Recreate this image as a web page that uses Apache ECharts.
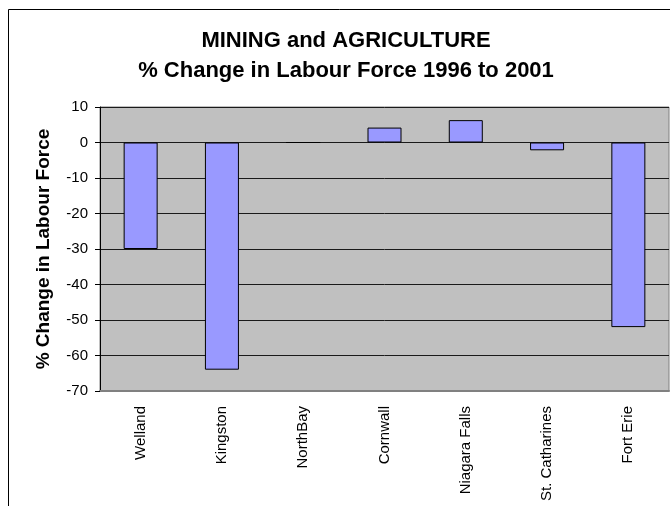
<!DOCTYPE html>
<html>
<head>
<meta charset="utf-8">
<script src="https://cdn.jsdelivr.net/npm/echarts@6/dist/echarts.min.js"></script>
<style>
  html, body { margin: 0; padding: 0; background: #fff; }
  #chart { width: 670px; height: 506px; }
</style>
</head>
<body>
<div id="chart"></div>
<script>
const cities = ['Welland', 'Kingston', 'NorthBay', 'Cornwall', 'Niagara Falls', 'St. Catharines', 'Fort Erie']
const changePct = [-30, -64, 0, 4.2, 6.3, -2.2, -52]
const yMin = -70
const yMax = 10
const yStep = 10

const font = 'Liberation Sans, Arial, sans-serif'

const chart = echarts.init(document.getElementById('chart'))

chart.setOption({
  animation: false,
  backgroundColor: '#fff',
  title: {
    text: 'MINING and AGRICULTURE\n% Change in Labour Force 1996 to 2001',
    left: 346,
    top: 26,
    padding: 0,
    textAlign: 'center',
    textStyle: {
      fontFamily: font,
      fontSize: 22,
      fontWeight: 'bold',
      color: '#000',
      lineHeight: 30
    }
  },
  graphic: [{
    // outer chart frame, cut off at right and bottom
    type: 'rect',
    shape: { x: 8.5, y: 9.5, width: 700, height: 600 },
    style: { fill: 'none', stroke: '#000', lineWidth: 1 },
    silent: true
  }],
  grid: {
    left: 100,
    right: 1,
    top: 107,
    bottom: 115,
    show: true,
    backgroundColor: '#C0C0C0',
    borderColor: '#808080',
    borderWidth: 1
  },
  xAxis: {
    type: 'category',
    data: cities,
    axisLine: { show: true, onZero: false, lineStyle: { color: '#808080', width: 2 } },
    axisTick: { show: false },
    axisLabel: {
      rotate: 90,
      margin: 15,
      interval: 0,
      fontFamily: font,
      fontSize: 15,
      color: '#000'
    },
    splitLine: { show: false }
  },
  yAxis: {
    type: 'value',
    min: yMin,
    max: yMax,
    interval: yStep,
    name: '% Change in Labour Force',
    nameLocation: 'middle',
    nameGap: 47,
    nameTextStyle: {
      fontFamily: font,
      fontSize: 19,
      fontWeight: 'bold',
      color: '#000'
    },
    axisLine: { show: true, lineStyle: { color: '#000', width: 1 } },
    axisTick: { show: true, inside: false, length: 5, lineStyle: { color: '#000' } },
    axisLabel: {
      margin: 12,
      fontFamily: font,
      fontSize: 15,
      color: '#000'
    },
    splitLine: { show: true, lineStyle: { color: '#1a1a1a', width: 1 } }
  },
  series: [{
    type: 'bar',
    data: changePct,
    barWidth: 34,
    itemStyle: {
      color: '#9999FF',
      borderColor: '#000',
      borderWidth: 1
    }
  }]
})
</script>
</body>
</html>
